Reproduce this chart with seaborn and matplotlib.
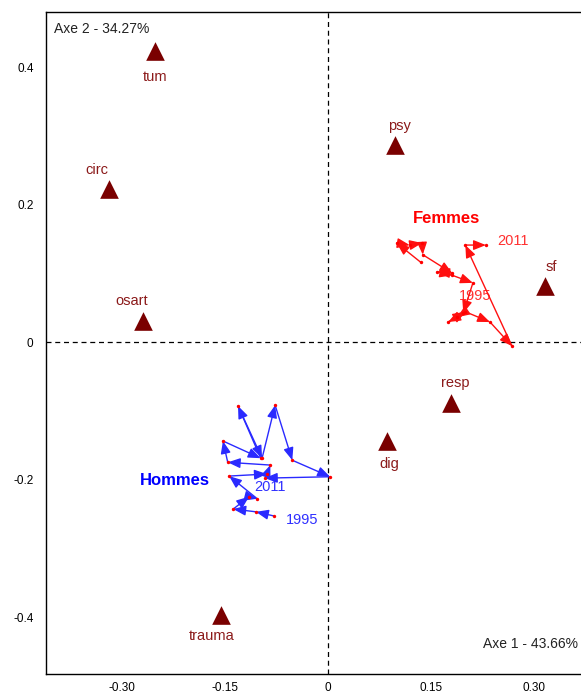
import matplotlib
matplotlib.use("Agg")
import matplotlib.pyplot as plt
import seaborn as sns
import pandas as pd

# Category points (column coordinates)
categories = ["tum", "circ", "osart", "psy", "sf", "resp", "dig", "trauma"]
cat_x = [-0.252, -0.319, -0.269, 0.098, 0.316, 0.179, 0.086, -0.156]
cat_y = [0.423, 0.222, 0.031, 0.287, 0.081, -0.089, -0.144, -0.397]

years = list(range(1995, 2012))
femmes_x = [0.135, 0.100, 0.119, 0.137, 0.138, 0.181, 0.159, 0.181, 0.211,
            0.197, 0.188, 0.175, 0.200, 0.236, 0.268, 0.200, 0.230]
femmes_y = [0.116, 0.144, 0.141, 0.144, 0.127, 0.100, 0.102, 0.097, 0.086,
            0.042, 0.036, 0.029, 0.044, 0.029, -0.006, 0.141, 0.141]
hommes_x = [-0.079, -0.105, -0.138, -0.115, -0.103, -0.144, -0.089, -0.084, -0.146,
            -0.153, -0.098, -0.131, -0.096, -0.077, -0.052, 0.003, -0.092]
hommes_y = [-0.253, -0.247, -0.243, -0.225, -0.228, -0.195, -0.192, -0.179, -0.175,
            -0.144, -0.169, -0.093, -0.169, -0.092, -0.172, -0.196, -0.198]

xticks = [-0.30, -0.15, 0.0, 0.15, 0.30]
xticklabels = ["-0.30", "-0.15", "0", "0.15", "0.30"]
yticks = [-0.4, -0.2, 0.0, 0.2, 0.4]
yticklabels = ["-0.4", "-0.2", "0", "0.2", "0.4"]

sns.set_style("white")
plt.rcParams['font.family'] = ['Liberation Sans', 'DejaVu Sans']

fig = plt.figure(figsize=(5.81, 6.96), dpi=100)
ax = fig.add_axes([46/581, 22/696, (581-46)/581, (674-12)/696])

ax.axvline(0, color="black", ls=(0, (4, 3)), lw=0.9, zorder=1)
ax.axhline(0, color="black", ls=(0, (4, 3)), lw=0.9, zorder=1)

cat_df = pd.DataFrame({"x": cat_x, "y": cat_y, "cat": categories})
sns.scatterplot(data=cat_df, x="x", y="y", marker="^", s=180, color="#7a0000",
                edgecolor="#7a0000", linewidth=0, ax=ax, zorder=3, legend=False)

offsets = {"tum": (0, -26), "circ": (-12, 19), "osart": (-12, 20), "psy": (4, 19),
           "sf": (6, 19), "resp": (4, 20), "dig": (2, -23), "trauma": (-9, -21)}
for c, x, y in zip(categories, cat_x, cat_y):
    ax.annotate(c, (x, y), xytext=offsets[c], textcoords="offset pixels",
                ha="center", va="center", fontsize=10.5, color="#8b1a1a")


def trajectory(xs, ys, col, dotcol):
    for i in range(len(xs) - 1):
        ax.annotate("", xy=(xs[i+1], ys[i+1]), xytext=(xs[i], ys[i]),
                    arrowprops=dict(arrowstyle="-|>,head_length=0.75,head_width=0.3",
                                    color=col, lw=1.0, shrinkA=0, shrinkB=0),
                    zorder=4)
    sns.scatterplot(x=xs, y=ys, color=dotcol, s=6, linewidth=0, ax=ax,
                    zorder=5, legend=False)


trajectory(femmes_x, femmes_y, "#ff1010", "#ff0000")
trajectory(hommes_x, hommes_y, "#2a2aff", "#ff0000")

ax.text(0.172, 0.180, "Femmes", color="#ff0000", fontsize=12, fontweight="bold",
        ha="center", va="center")
ax.text(-0.223, -0.202, "Hommes", color="#0000ff", fontsize=12, fontweight="bold",
        ha="center", va="center")
ax.text(0.269, 0.147, str(years[-1]), color="#ff3030", fontsize=10.5, ha="center", va="center")
ax.text(0.214, 0.067, str(years[0]), color="#ff3030", fontsize=10.5, ha="center", va="center")
ax.text(-0.084, -0.211, str(years[-1]), color="#3030ff", fontsize=10.5, ha="center", va="center")
ax.text(-0.038, -0.259, str(years[0]), color="#3030ff", fontsize=10.5, ha="center", va="center")

ax.text(0.015, 0.985, "Axe 2 - 34.27%", transform=ax.transAxes, fontsize=10,
        ha="left", va="top", color="#222222")
ax.text(0.995, 0.035, "Axe 1 - 43.66%", transform=ax.transAxes, fontsize=10,
        ha="right", va="bottom", color="#222222")

ax.set_xlim((46-328)/686.7, (581-328)/686.7)
ax.set_ylim((342-674)/687.5, (342-12)/687.5)
ax.set_xticks(xticks)
ax.set_xticklabels(xticklabels)
ax.set_yticks(yticks)
ax.set_yticklabels(yticklabels)
ax.tick_params(axis="both", direction="inout", length=8, width=1, labelsize=8.5,
               colors="black")
ax.tick_params(axis="x", pad=2)
ax.tick_params(axis="y", pad=5)
ax.set_xlabel("")
ax.set_ylabel("")
for s in ["left", "bottom", "top"]:
    ax.spines[s].set_color("black")
    ax.spines[s].set_linewidth(1)
ax.spines["right"].set_visible(False)

fig.savefig("out.png", dpi=100, facecolor="white")
